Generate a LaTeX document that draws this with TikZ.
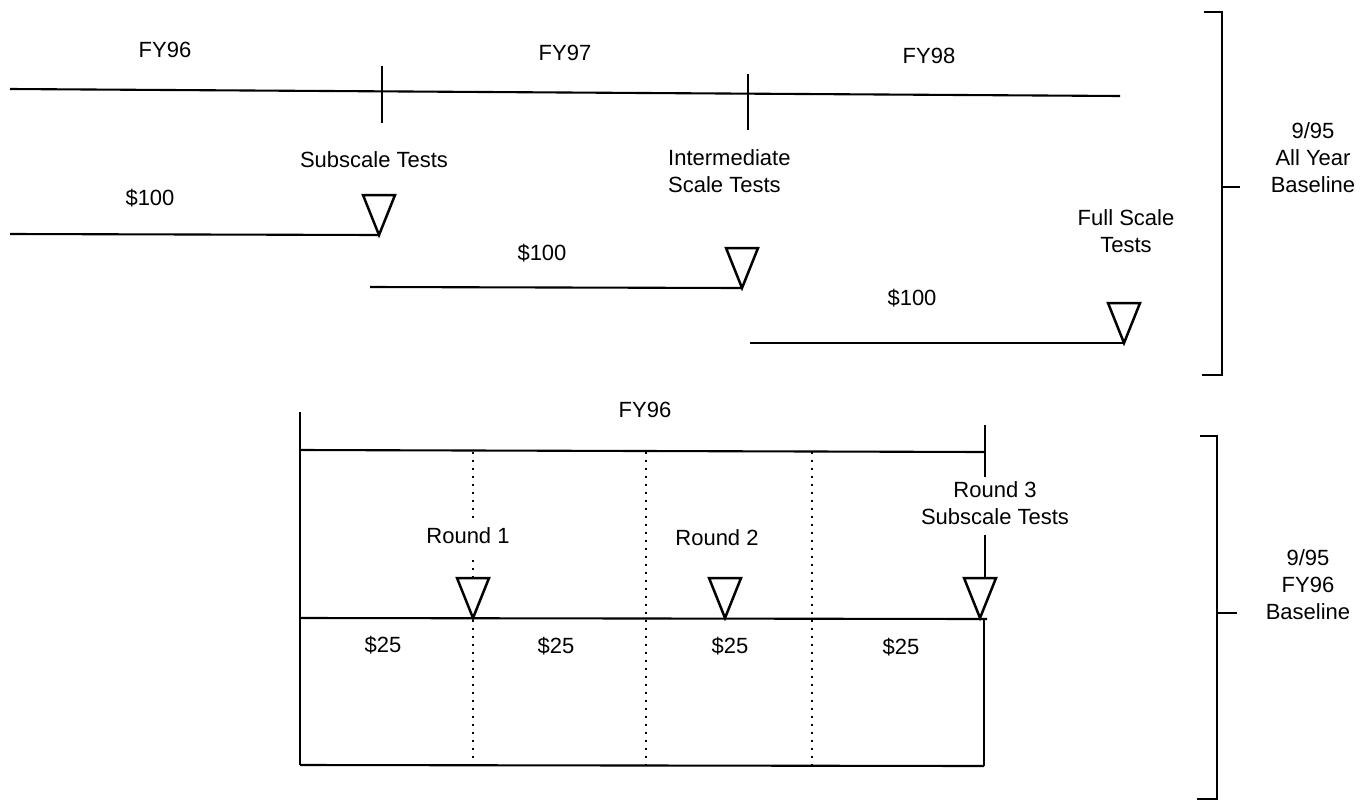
\documentclass[tikz,border=0pt]{standalone}
\usepackage{fontspec}
\setmainfont{Liberation Sans}
\usetikzlibrary{calc}
\newcommand{\mytri}[3]{%
  \coordinate (#1) at (#2,#3);
  \draw[tri] ($(#1)+(-16,-40)$) -- ($(#1)+(16,-40)$) -- (#1) -- cycle;}
\begin{document}
\begin{tikzpicture}[x=1pt,y=-1pt,
  ln/.style={line width=2.1pt},
  dotln/.style={line width=1.8pt, dash pattern=on 1.8pt off 6.2pt},
  lbl/.style={font=\fontsize{22}{27}\selectfont, inner sep=0pt, align=center},
  tri/.style={line width=2.5pt, fill=white, line join=miter}]
\useasboundingbox (0,0) rectangle (1366,801);

% ---------- top: all year baseline ----------
\coordinate (a0) at (10,89);
\coordinate (a1) at (1120,96);
\draw[ln] (a0) -- (a1);
\coordinate (k1a) at (382,66); \coordinate (k1b) at (382,123);
\coordinate (k2a) at (748,74); \coordinate (k2b) at (748,130);
\draw[ln] (k1a) -- (k1b);
\draw[ln] (k2a) -- (k2b);

\node[lbl] (fy96) at (165,50) {FY96};
\node[lbl] (fy97) at (565,53) {FY97};
\node[lbl] (fy98) at (929,56) {FY98};

\node[lbl] (sub) at (374,160) {Subscale Tests};
\node[lbl, align=left, anchor=west] (inter) at (668,171.5) {Intermediate\\Scale Tests};
\node[lbl] (full) at (1126,231.5) {Full Scale\\Tests};

\node[lbl] (d1) at (150,198) {\$100};
\node[lbl] (d2) at (542,253) {\$100};
\node[lbl] (d3) at (912,298) {\$100};

\coordinate (l1) at (10,234);
\coordinate (l2) at (370,287);
\coordinate (l3) at (750,343);
\coordinate (p1) at (379,235);
\coordinate (p2) at (742,288);
\coordinate (p3) at (1124,343);
\draw[ln] (l1) -- (p1);
\draw[ln] (l2) -- (p2);
\draw[ln] (l3) -- (p3);
\mytri{t1}{379}{235}
\mytri{t2}{742}{288}
\mytri{t3}{1124}{343}

% bracket 1
\coordinate (b1a) at (1204,12); \coordinate (b1b) at (1222,12);
\coordinate (b1c) at (1222,375); \coordinate (b1d) at (1202,375);
\coordinate (b1m) at (1222,187); \coordinate (b1n) at (1240,187);
\draw[ln] (b1a) -- (b1b) -- (b1c) -- (b1d);
\draw[ln] (b1m) -- (b1n);
\node[lbl] (base1) at (1313,158) {9/95\\All Year\\Baseline};

% ---------- bottom: FY96 baseline ----------
\node[lbl] (fy96b) at (645,410) {FY96};
\coordinate (lv0) at (300,412); \coordinate (lv1) at (300,765);
\coordinate (top0) at (300,450); \coordinate (top1) at (985,452);
\coordinate (rt0) at (985,425); \coordinate (rt1) at (985,477);
\coordinate (ar0) at (985,535); \coordinate (ar1) at (985,578);
\coordinate (mid0) at (300,618); \coordinate (mid1) at (987,619);
\coordinate (rv0) at (984,619); \coordinate (rv1) at (984,766);
\coordinate (bot0) at (300,765); \coordinate (bot1) at (984,766);
\draw[ln] (lv0) -- (lv1);
\draw[ln] (top0) -- (top1);
\draw[ln] (rt0) -- (rt1);
\draw[ln] (ar0) -- (ar1);
\draw[ln] (rv0) -- (rv1);
\draw[ln] (bot0) -- (bot1);

% dotted dividers
\coordinate (v1a) at (473,452); \coordinate (v1b) at (473,523);
\coordinate (v1c) at (473,560); \coordinate (v1d) at (473,578);
\coordinate (v1e) at (473,620); \coordinate (v1f) at (473,765);
\draw[dotln] (v1a) -- (v1b);
\draw[dotln] (v1c) -- (v1d);
\draw[dotln] (v1e) -- (v1f);
\coordinate (v2a) at (646,452); \coordinate (v2b) at (646,765);
\coordinate (v3a) at (812,452); \coordinate (v3b) at (812,765);
\draw[dotln] (v2a) -- (v2b);
\draw[dotln] (v3a) -- (v3b);

\draw[ln] (mid0) -- (mid1);

\node[lbl] (r1) at (468,536) {Round 1};
\node[lbl] (r2) at (717,538) {Round 2};
\node[lbl] (r3) at (995,503.5) {Round 3\\Subscale Tests};

\mytri{s1}{473}{618}
\mytri{s2}{725}{618}
\mytri{s3}{980}{618}

\node[lbl] (c1) at (383,645) {\$25};
\node[lbl] (c2) at (556,646) {\$25};
\node[lbl] (c3) at (730,646) {\$25};
\node[lbl] (c4) at (901,647) {\$25};

% bracket 2
\coordinate (b2a) at (1200,436); \coordinate (b2b) at (1217,436);
\coordinate (b2c) at (1217,799); \coordinate (b2d) at (1197,799);
\coordinate (b2m) at (1217,613); \coordinate (b2n) at (1237,613);
\draw[ln] (b2a) -- (b2b) -- (b2c) -- (b2d);
\draw[ln] (b2m) -- (b2n);
\node[lbl] (base2) at (1308,585) {9/95\\FY96\\Baseline};
\end{tikzpicture}
\end{document}
